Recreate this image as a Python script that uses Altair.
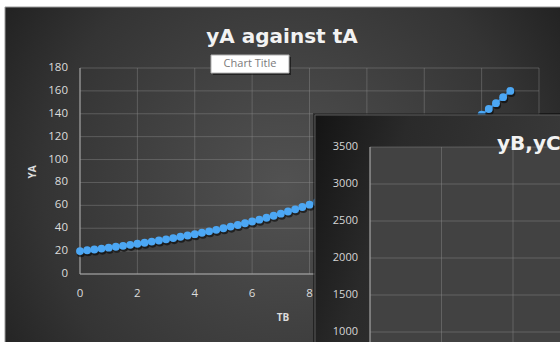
import altair as alt
import pandas as pd

# ---- Chart A data ----
t_a = [0, 0.25, 0.5, 0.75, 1, 1.25, 1.5, 1.75, 2, 2.25, 2.5, 2.75, 3, 3.25, 3.5, 3.75,
       4, 4.25, 4.5, 4.75, 5, 5.25, 5.5, 5.75, 6, 6.25, 6.5, 6.75, 7, 7.25, 7.5, 7.75,
       8, 8.25, 8.5, 8.75, 9, 9.25, 9.5, 9.75, 10, 10.25, 10.5, 10.75, 11, 11.25, 11.5, 11.75,
       12, 12.25, 12.5, 12.75, 13, 13.25, 13.5, 13.75, 14, 14.25, 14.5, 14.75, 15]
y_a = [20.0, 20.7, 21.4, 22.2, 23.0, 23.8, 24.6, 25.5, 26.4, 27.3, 28.3, 29.3, 30.3, 31.4, 32.5, 33.6,
       34.8, 36.0, 37.3, 38.6, 40.0, 41.4, 42.8, 44.3, 45.9, 47.5, 49.2, 50.9, 52.7, 54.6, 56.5, 58.5,
       60.6, 62.7, 64.9, 67.2, 69.6, 72.0, 74.6, 77.2, 80.0, 82.8, 85.7, 88.7, 91.9, 95.1, 98.5, 101.9,
       105.5, 109.2, 113.1, 117.1, 121.3, 125.5, 129.9, 134.5, 139.3, 144.2, 149.3, 154.5, 160.0]
x_ticks_a = [0, 2, 4, 6, 8, 10, 12, 14, 16]
x_labels_a = [0, 2, 4, 6, 8]
y_ticks_a = [0, 20, 40, 60, 80, 100, 120, 140, 160, 180]
title_a = "yA against tA"
x_title_a = "TB"
y_title_a = "YA"
placeholder_title = "Chart Title"

# ---- Chart B (partly visible) ----
y_ticks_b = [1000, 1500, 2000, 2500, 3000, 3500]
x_grid_b = [0, 2, 4]
title_b = "yB,yC"

FONT = "Open Sans"
TFONT = "DejaVu Sans"
W, H = 459, 206

one = pd.DataFrame({"k": [0]})

# outer dark frame
bg = alt.Chart(one).mark_rect(
    color={"gradient": "radial", "x1": 0.5, "y1": 0.5, "x2": 0.5, "y2": 0.5, "r1": 0, "r2": 0.72,
           "stops": [{"offset": 0, "color": "#525252"}, {"offset": 0.6, "color": "#343434"},
                     {"offset": 1, "color": "#141414"}]},
    stroke="#9a9a9a", strokeWidth=1
).encode(x=alt.value(-75), x2=alt.value(485), y=alt.value(-61), y2=alt.value(300))

xs = alt.Scale(domain=[0, 16], nice=False, zero=False)
ys = alt.Scale(domain=[0, 180], nice=False, zero=False)

dfA = pd.DataFrame({"t": t_a, "y": y_a})
dfxg = pd.DataFrame({"xt": x_ticks_a})
dfxl = pd.DataFrame({"xl": x_labels_a})
dfyg = pd.DataFrame({"yt": y_ticks_a})

gridx = alt.Chart(dfxg).mark_rule(color="#8a8a8a", opacity=0.45, strokeWidth=1).encode(
    x=alt.X("xt:Q", scale=xs, axis=None), y=alt.value(0), y2=alt.value(H))
gridy = alt.Chart(dfyg).mark_rule(color="#8a8a8a", opacity=0.45, strokeWidth=1).encode(
    y=alt.Y("yt:Q", scale=ys, axis=None), x=alt.value(0), x2=alt.value(W))
domL = alt.Chart(one).mark_rule(color="#a8a8a8", strokeWidth=1).encode(
    x=alt.value(0), y=alt.value(0), y2=alt.value(H))
domB = alt.Chart(one).mark_rule(color="#a8a8a8", strokeWidth=1).encode(
    y=alt.value(H), x=alt.value(0), x2=alt.value(W))
labY = alt.Chart(dfyg).mark_text(align="right", baseline="middle", font=FONT, fontSize=11.5,
                                 color="#dcdcdc").encode(
    y=alt.Y("yt:Q", scale=ys, axis=None), x=alt.value(-12), text="yt:Q")
labX = alt.Chart(dfxl).mark_text(align="center", baseline="middle", font=FONT, fontSize=11.5,
                                 color="#dcdcdc").encode(
    x=alt.X("xl:Q", scale=xs, axis=None), y=alt.value(H + 20), text="xl:Q")
titY = alt.Chart(pd.DataFrame({"s": [y_title_a]})).mark_text(
    angle=270, align="center", baseline="middle", font=FONT, fontSize=10, fontWeight="bold",
    color="#dcdcdc").encode(x=alt.value(-47), y=alt.value(104), text="s:N")
titX = alt.Chart(pd.DataFrame({"s": [x_title_a]})).mark_text(
    align="center", baseline="middle", font=FONT, fontSize=10, fontWeight="bold",
    color="#dcdcdc").encode(x=alt.value(203), y=alt.value(H + 44), text="s:N")

encA = dict(x=alt.X("t:Q", scale=xs, axis=None), y=alt.Y("y:Q", scale=ys, axis=None))
shadow = alt.Chart(dfA).mark_circle(size=66, color="#000000", opacity=0.55, xOffset=1,
                                    yOffset=2).encode(**encA)
line = alt.Chart(dfA).mark_line(color="#3a8ede", strokeWidth=2).encode(**encA)
pts = alt.Chart(dfA).mark_circle(size=62, color="#4ca7f4", opacity=1).encode(**encA)

layerA = alt.layer(gridx, gridy, domL, domB, labY, labX, titY, titX, shadow, line, pts)

# titles
mainT = alt.Chart(pd.DataFrame({"s": [title_a]})).mark_text(
    align="center", baseline="alphabetic", font=TFONT, fontSize=20, fontWeight="bold",
    color="#f2f2f2").encode(x=alt.value(202), y=alt.value(-25), text="s:N")
boxSh = alt.Chart(one).mark_rect(color="#000000", opacity=0.5).encode(
    x=alt.value(133), x2=alt.value(211), y=alt.value(-11), y2=alt.value(7))
box = alt.Chart(one).mark_rect(color="#ffffff", stroke="#b0b0b0", strokeWidth=1).encode(
    x=alt.value(131), x2=alt.value(209), y=alt.value(-13), y2=alt.value(5))
boxT = alt.Chart(pd.DataFrame({"s": [placeholder_title]})).mark_text(
    align="center", baseline="middle", font=FONT, fontSize=11, color="#7a7a7a").encode(
    x=alt.value(170), y=alt.value(-4), text="s:N")

# panel B
panelSh = alt.Chart(one).mark_rect(color="#000000", opacity=0.45).encode(
    x=alt.value(233), x2=alt.value(485), y=alt.value(45), y2=alt.value(300))
panel = alt.Chart(one).mark_rect(
    color={"gradient": "linear", "x1": 0, "y1": 0, "x2": 1, "y2": 0.3,
           "stops": [{"offset": 0, "color": "#141414"}, {"offset": 0.35, "color": "#2a2a2a"},
                     {"offset": 1, "color": "#3a3a3a"}]},
    stroke="#5a5a5a", strokeWidth=1).encode(
    x=alt.value(235), x2=alt.value(485), y=alt.value(47), y2=alt.value(300))
plotB = alt.Chart(one).mark_rect(color="#424242").encode(
    x=alt.value(290), x2=alt.value(485), y=alt.value(79), y2=alt.value(300))

ysB = alt.Scale(domain=[0, 3500], range=[338, 79], nice=False, zero=False)
xsB = alt.Scale(domain=[0, 4], range=[290, 433], nice=False, zero=False)
dfyb = pd.DataFrame({"v": y_ticks_b})
dfxb = pd.DataFrame({"u": x_grid_b})
gridBy = alt.Chart(dfyb).mark_rule(color="#8a8a8a", opacity=0.45).encode(
    y=alt.Y("v:Q", scale=ysB, axis=None), x=alt.value(290), x2=alt.value(485))
gridBx = alt.Chart(dfxb).mark_rule(color="#8a8a8a", opacity=0.45).encode(
    x=alt.X("u:Q", scale=xsB, axis=None), y=alt.value(79), y2=alt.value(300))
domBL = alt.Chart(one).mark_rule(color="#a8a8a8").encode(
    x=alt.value(290), y=alt.value(79), y2=alt.value(300))
labB = alt.Chart(dfyb).mark_text(align="right", baseline="middle", font=FONT, fontSize=11,
                                 color="#d6d6d6").encode(
    y=alt.Y("v:Q", scale=ysB, axis=None), x=alt.value(278), text=alt.Text("v:Q", format="d"))
titB = alt.Chart(pd.DataFrame({"s": [title_b]})).mark_text(
    align="left", baseline="alphabetic", font=TFONT, fontSize=20, fontWeight="bold",
    color="#f2f2f2").encode(x=alt.value(417), y=alt.value(82), text="s:N")
layerB = alt.layer(gridBy, gridBx, domBL, labB)

chart = alt.layer(
    bg, layerA, mainT, boxSh, box, boxT, panelSh, panel, plotB, layerB, titB
).resolve_scale(x="independent", y="independent").properties(
    width=W, height=H,
    padding={"left": 80, "top": 68, "right": 21, "bottom": 68},
    autosize=alt.AutoSizeParams(type="none"),
    background="#ffffff",
).configure_view(stroke=None, clip=False)

chart.save("out.html", embed_options={"renderer": "svg", "actions": False})
